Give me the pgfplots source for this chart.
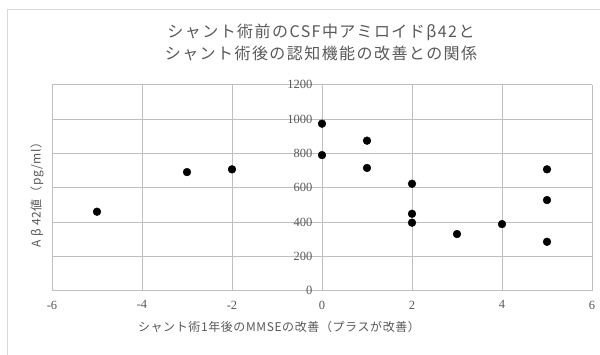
\documentclass[border=0pt]{standalone}
\usepackage{pgfplots}
\pgfplotsset{compat=1.18}
\usepackage{fontspec}
\setmainfont{Liberation Serif}
\newfontfamily\cjk[LetterSpace=9]{Noto Sans CJK JP}
\newfontfamily\cjkx[LetterSpace=5]{Noto Sans CJK JP}
\definecolor{txt}{HTML}{595959}
\definecolor{grid}{HTML}{D9D9D9}
\definecolor{axl}{HTML}{BFBFBF}
\begin{document}
\begin{tikzpicture}[x=1pt,y=1pt]
\useasboundingbox (0,0) rectangle (600,355);
\fill[white] (0,0) rectangle (600,355);
\draw[grid, line width=0.8pt] (7,-5) -- (7,346) -- (605,346);
\begin{axis}[
  at={(52pt,64.3pt)}, anchor=south west,
  scale only axis, width=540pt, height=206pt,
  xmin=-6, xmax=6, ymin=0, ymax=1200,
  xtick={-6,-4,...,6}, ytick={0,200,...,1200},
  axis lines=center,
  axis line style={-, axl, line width=0.8pt},
  hide obscured x ticks=false, hide obscured y ticks=false,
  grid=major, major grid style={grid, line width=0.8pt},
  xtick style={draw=none},
  ytick style={axl, line width=0.8pt},
  ytick align=outside, major tick length=5pt,
  tick label style={font=\fontsize{12.5}{14}\selectfont, text=txt},
  /pgf/number format/assume math mode=true,
  /pgf/number format/1000 sep={},
  yticklabel style={xshift=-1pt},
  xticklabel style={yshift=-4pt},
  clip=false,
]
\addplot[only marks, mark=*, mark size=3.9pt, mark options={fill=black, draw=black}] coordinates {
  (-5,460) (-3,691) (-2,707)
  (0,973) (0,790)
  (1,874) (1,715)
  (2,623) (2,448) (2,396)
  (3,330) (4,388)
  (5,707) (5,528) (5,285)
};
\end{axis}
\node[text=txt, font=\cjk\fontsize{16}{19}\selectfont] at (321,323) {シャント術前のCSF中アミロイドβ42と};
\node[text=txt, font=\cjk\fontsize{16}{19}\selectfont] at (321,302) {シャント術後の認知機能の改善との関係};
\node[text=txt, font=\cjkx\fontsize{12}{14}\selectfont] at (279,28) {シャント術1年後のMMSEの改善（プラスが改善）};
\node[text=txt, font=\cjkx\fontsize{12}{14}\selectfont, rotate=90] at (37,163) {A β 42値（pg/ml）};
\end{tikzpicture}
\end{document}
